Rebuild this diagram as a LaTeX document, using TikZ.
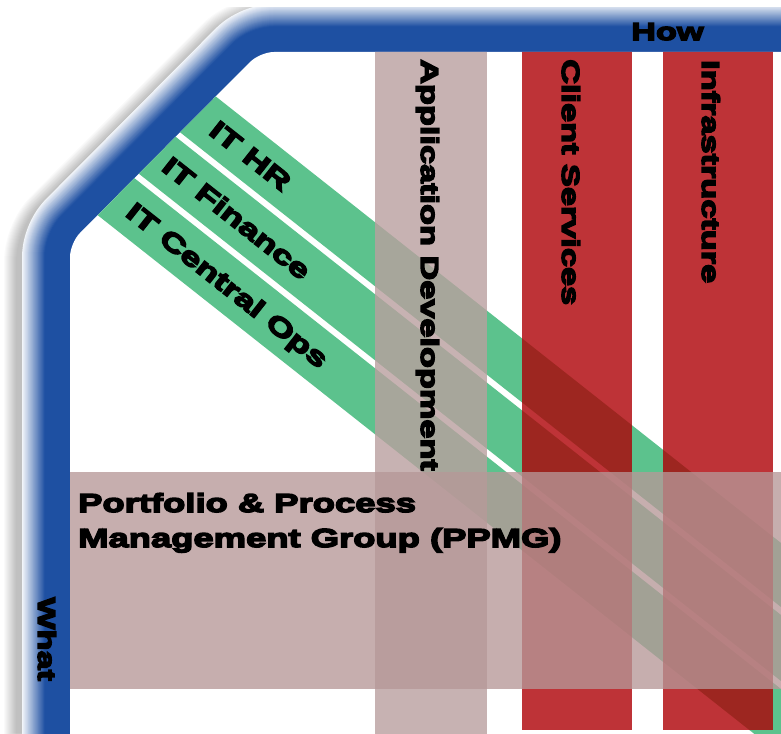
\documentclass[tikz,border=0pt]{standalone}
\usepackage{fontspec}
\setmainfont{Liberation Sans}
\newfontfamily\heavyfont[FakeStretch=1.40]{Liberation Sans Bold}
\newcommand\thick[1]{\special{pdf:literal direct 2 Tr 1.5 w 0 0 0 RG}#1\special{pdf:literal direct 0 Tr}}
\definecolor{framedark}{RGB}{30,80,162}
\definecolor{greenb}{RGB}{92,194,141}
\definecolor{redc}{RGB}{174,0,5}
\definecolor{appc}{RGB}{186,159,159}
\definecolor{ppmgc}{RGB}{182,152,152}
\tikzset{
  lbl/.style={font=\heavyfont\fontsize{24.5}{30}\selectfont, text=black, inner sep=0pt, text depth=0pt},
  vlbl/.style={lbl, rotate=-90, anchor=west},
  dlbl/.style={lbl, rotate=-38.3, anchor=west, font=\heavyfont\fontsize{26}{30}\selectfont},
  hlbl/.style={lbl, anchor=base west, font=\heavyfont\fontsize{26}{32}\selectfont},
  bandfill/.style={fill=greenb},
  colfill/.style={fill=#1, fill opacity=0.8},
  framelayer/.style={line width=#1, rounded corners=14, line join=round},
}
\begin{document}
\begin{tikzpicture}[x=1pt,y=-1pt]
\useasboundingbox (0,0) rectangle (781,733);
\fill[white] (0,0) rectangle (781,733);
% frame with soft shadow
\begin{scope}
  \clip (0,8) rectangle (781,733);
  \begin{scope}[shift={(-6,5)}]
    \foreach \d in {48,...,60} {
      \draw[framelayer=2*\d, black, draw opacity=0.018] (70,760) -- (70,243) -- (260,52) -- (800,52);
    }
  \end{scope}
  \foreach \d in {48,...,20} {
    \pgfmathtruncatemacro{\c}{min(100, 6 + (48-\d)*4.2)}
    \draw[framelayer=2*\d, framedark!\c!white] (70,760) -- (70,243) -- (260,52) -- (800,52);
  }
\end{scope}
% interior
\begin{scope}
  \fill[white, rounded corners=14] (70,760) -- (70,243) -- (260,52) -- (800,52) -- (800,760) -- cycle;
  \clip[rounded corners=14] (70,760) -- (70,243) -- (260,52) -- (800,52) -- (800,760) -- cycle;
  % diagonal bands
  \fill[bandfill] (0,-74) -- (800,558) -- (800,622) -- (0,-10) -- cycle;
  \fill[bandfill] (0,-2) -- (800,630) -- (800,696) -- (0,64) -- cycle;
  \fill[bandfill] (0,72) -- (800,704) -- (800,770) -- (0,138) -- cycle;
  % columns
  \fill[colfill=appc] (375,40) rectangle (487,740);
  \fill[colfill=redc] (522,40) rectangle (632,730);
  \fill[colfill=redc] (663,40) rectangle (773,730);
  % PPMG band
  \fill[ppmgc, fill opacity=0.78] (60,472) rectangle (790,689);
\end{scope}
% labels
\node[dlbl] (hr) at (213,126.3) {\thick{IT HR}};
\node[dlbl] (fin) at (166,162) {\thick{IT Finance}};
\node[dlbl] (ops) at (130,207.7) {\thick{IT Central Ops}};
\node[vlbl] (app) at (430,59) {\thick{Application Development}};
\node[vlbl] (cli) at (571,59) {\thick{Client Services}};
\node[vlbl] (inf) at (711,60) {\thick{Infrastructure}};
\node[hlbl] (pp1) at (78,512) {\thick{Portfolio \& Process}};
\node[hlbl] (pp2) at (78,547) {\thick{Management Group (PPMG)}};
\node[lbl, anchor=base west] (how) at (631,40) {\thick{How}};
\node[vlbl] (what) at (47,597) {\thick{What}};
\end{tikzpicture}
\end{document}
